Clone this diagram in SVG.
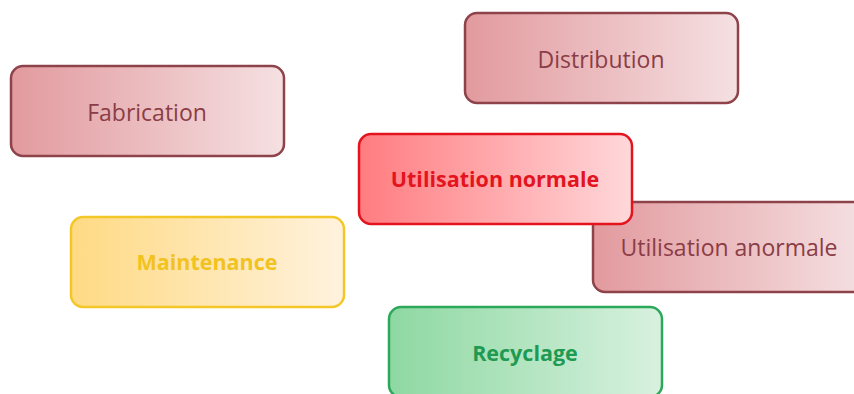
<svg xmlns="http://www.w3.org/2000/svg" width="854" height="394" viewBox="0 0 854 394">
<defs>
<linearGradient id="gRed" x1="0" y1="0" x2="1" y2="0"><stop offset="0" stop-color="#E29A9E"/><stop offset="1" stop-color="#F5E0E2"/></linearGradient>
<linearGradient id="gBright" x1="0" y1="0" x2="1" y2="0"><stop offset="0" stop-color="#FF7C80"/><stop offset="1" stop-color="#FFD8DA"/></linearGradient>
<linearGradient id="gYellow" x1="0" y1="0" x2="1" y2="0"><stop offset="0" stop-color="#FFDA84"/><stop offset="1" stop-color="#FFF2DE"/></linearGradient>
<linearGradient id="gGreen" x1="0" y1="0" x2="1" y2="0"><stop offset="0" stop-color="#8ED8A2"/><stop offset="1" stop-color="#D8F1DF"/></linearGradient>
</defs>
<style>
text{font-family:"Open Sans","Liberation Sans",sans-serif;font-size:23px;text-anchor:middle;dominant-baseline:central}
.red rect{fill:url(#gRed);stroke:#8E434B;stroke-width:2.5}
.red text{fill:#8A3D46}
.bright rect{fill:url(#gBright);stroke:#E3141E;stroke-width:2.5}
.bright text{fill:#E3141E;font-weight:bold;font-size:21.5px}
.yellow rect{fill:url(#gYellow);stroke:#F4C728;stroke-width:2.5}
.yellow text{fill:#F2C21E;font-weight:bold;font-size:21.5px}
.green rect{fill:url(#gGreen);stroke:#2CA85A;stroke-width:2.5}
.green text{fill:#1F9A52;font-weight:bold;font-size:21.5px}
</style>
<rect width="854" height="394" fill="#ffffff"/>
<g id="connectors"/>
<g id="fabrication" class="red"><rect x="11" y="66" width="273" height="90" rx="12"/><text x="147" y="112">Fabrication</text></g>
<g id="distribution" class="red"><rect x="465" y="13" width="273" height="90" rx="12"/><text x="601" y="59">Distribution</text></g>
<g id="utilisation-anormale" class="red"><rect x="593" y="202" width="273" height="90" rx="12"/><text x="729" y="247">Utilisation anormale</text></g>
<g id="utilisation-normale" class="bright"><rect x="359" y="134" width="273" height="90" rx="12"/><text x="495" y="178.5">Utilisation normale</text></g>
<g id="maintenance" class="yellow"><rect x="71" y="217" width="273" height="90" rx="12"/><text x="207" y="261.5">Maintenance</text></g>
<g id="recyclage" class="green"><rect x="389" y="307" width="273" height="90" rx="12"/><text x="525" y="352.5">Recyclage</text></g>
</svg>
